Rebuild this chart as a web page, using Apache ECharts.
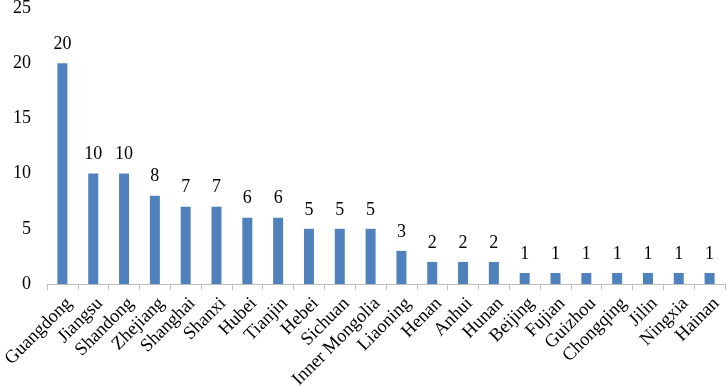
<!DOCTYPE html>
<html><head><meta charset="utf-8">
<script src="https://cdn.jsdelivr.net/npm/echarts@6/dist/echarts.min.js"></script>
<style>html,body{margin:0;padding:0;background:#fff}#c{width:726px;height:387px}</style>
</head><body><div id="c"></div>
<script>
const categories = ["Guangdong","Jiangsu","Shandong","Zhejiang","Shanghai","Shanxi","Hubei","Tianjin","Hebei","Sichuan","Inner Mongolia","Liaoning","Henan","Anhui","Hunan","Beijing","Fujian","Guizhou","Chongqing","Jilin","Ningxia","Hainan"];
const values = [20,10,10,8,7,7,6,6,5,5,5,3,2,2,2,1,1,1,1,1,1,1];
const yTicks = [0,5,10,15,20,25];
const font = "'Liberation Serif','Times New Roman',serif";
const chart = echarts.init(document.getElementById('c'));
chart.setOption({
  animation:false,
  grid:{left:47,right:1,top:8,bottom:103,outerBoundsMode:'none',containLabel:false},
  xAxis:{type:'category',data:categories,
    axisLine:{lineStyle:{color:'#bfbfbf',width:1}},
    axisTick:{show:true,length:6,lineStyle:{color:'#bfbfbf'}},
    axisLabel:{rotate:45,interval:0,color:'#000',fontFamily:font,fontSize:18.5,margin:10,verticalAlign:'top'}},
  yAxis:{type:'value',min:yTicks[0],max:yTicks[yTicks.length-1],interval:5,
    axisLine:{show:false},axisTick:{show:false},splitLine:{show:false},
    axisLabel:{color:'#000',fontFamily:font,fontSize:18,margin:16}},
  series:[{type:'bar',data:values,barWidth:10,itemStyle:{color:'#4f81bd'},
    label:{show:true,position:'top',distance:10,color:'#000',fontFamily:font,fontSize:18}}]
});
</script></body></html>
